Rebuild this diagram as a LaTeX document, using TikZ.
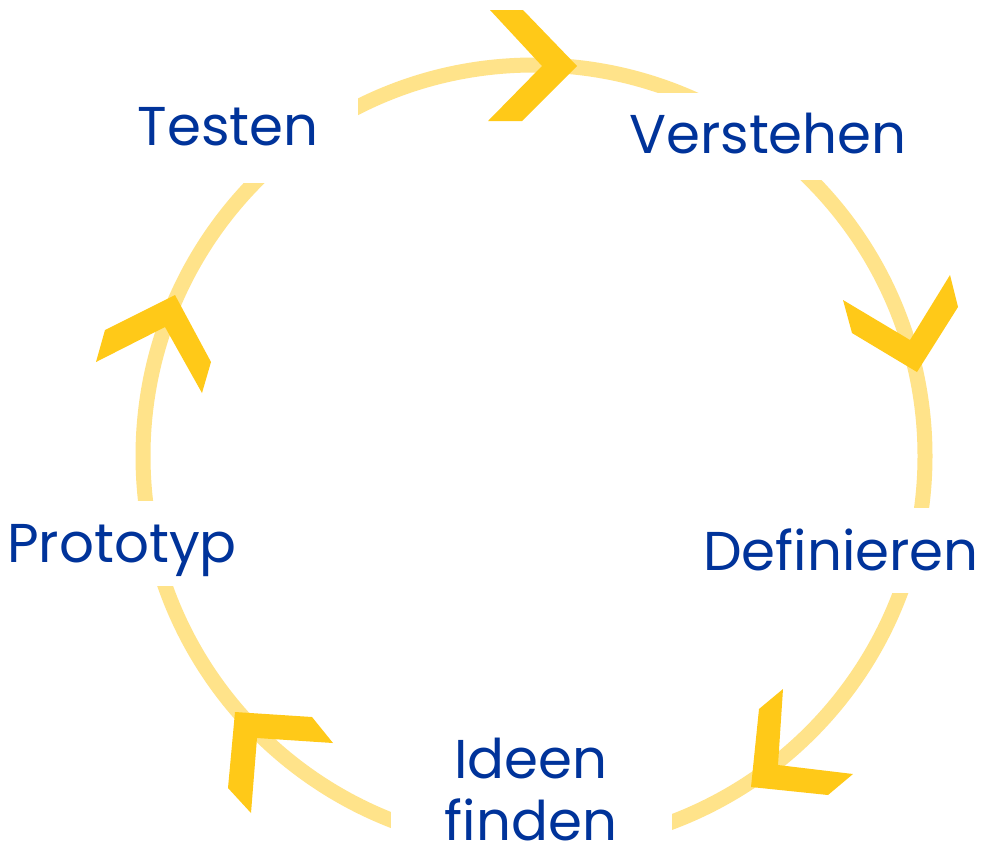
\documentclass[tikz,border=0pt]{standalone}
\usepackage{fontspec}
\setmainfont{Poppins}
\definecolor{ringcol}{HTML}{FFE38A}
\definecolor{chevcol}{HTML}{FFC918}
\definecolor{txtcol}{HTML}{00339A}
\begin{document}
\begin{tikzpicture}[x=0.75pt,y=-0.75pt,
  ring/.style={draw=ringcol,line width=11.25pt},
  gapbox/.style={fill=white,draw=none},
  chev/.style={fill=chevcol,draw=none},
  lbl/.style={text=txtcol,font=\fontsize{41pt}{46.5pt}\selectfont,anchor=base,inner sep=0pt,align=center}]
\useasboundingbox (0,0) rectangle (981,844);
\fill[white] (0,0) rectangle (981,844);
% ring
\coordinate (c) at (534,456);
\draw[ring] (c) circle[radius=293.25pt];
% gaps behind labels
\fill[gapbox] (100,40) rectangle (358,183);
\fill[gapbox] (610,93) rectangle (990,180);
\fill[gapbox] (690,508) rectangle (990,593);
\fill[gapbox] (391,720) rectangle (672,870);
\fill[gapbox] (-10,501) rectangle (250,586);
% chevrons
\fill[chev] (577,66) -- (522,121) -- (488,121) -- (542,66) -- (490,10) -- (523,10) -- cycle;
\fill[chev] (843,300) -- (910,340) -- (950,275) -- (958,307) -- (917,372) -- (852,333) -- cycle;
\fill[chev] (783,689) -- (778,765) -- (853,774) -- (828,795) -- (751,787) -- (759,709) -- cycle;
\fill[chev] (235,712) -- (312,717) -- (333,743) -- (257,738) -- (251,813) -- (228,788) -- cycle;
\fill[chev] (175,295) -- (211,362) -- (202,393) -- (165,327) -- (96,362) -- (105,330) -- cycle;
% labels
\node[lbl] (testen) at (228,145) {Testen};
\node[lbl] (verstehen) at (768,153) {Verstehen};
\node[lbl] (definieren) at (841,570) {Definieren};
\node[lbl] (ideen) at (531,840) {Ideen\\finden};
\node[lbl] (prototyp) at (122,562) {Prototyp};
\end{tikzpicture}
\end{document}
